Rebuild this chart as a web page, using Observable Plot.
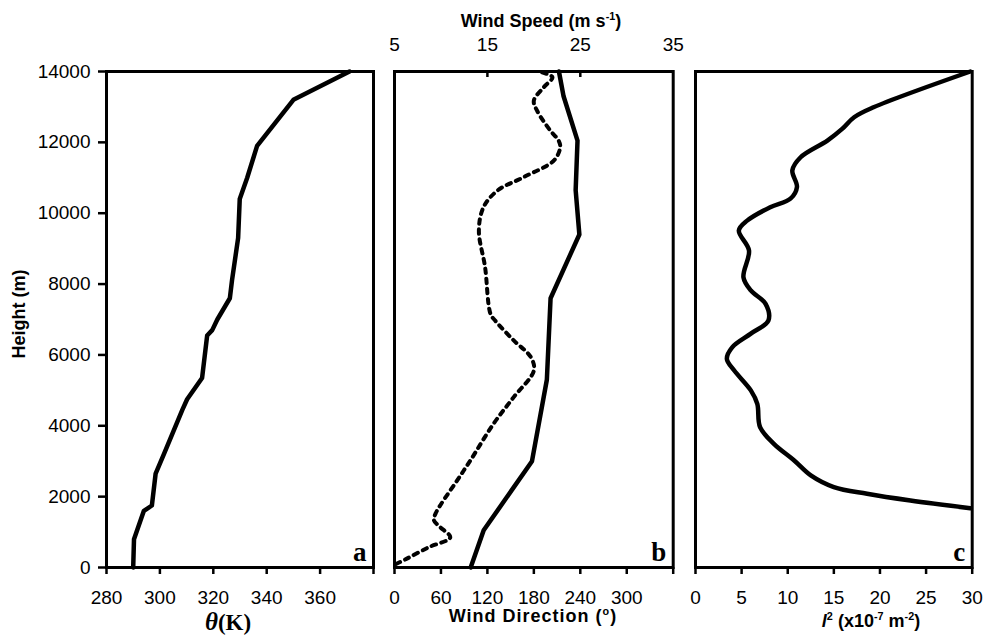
<!DOCTYPE html>
<html><head><meta charset="utf-8">
<script src="https://cdn.jsdelivr.net/npm/d3@7"></script>
<script src="https://cdn.jsdelivr.net/npm/@observablehq/plot@0.6"></script>
<style>
body{margin:0;background:#fff;}
#wrap{position:relative;width:983px;height:635px;overflow:hidden;font-family:"Liberation Sans",Arial,sans-serif;background:#fff;}
#wrap svg{position:absolute;top:0;}
.lbl{position:absolute;white-space:nowrap;font-weight:bold;color:#000;line-height:1;transform:translate(-50%,-50%);}
.lbl sup{font-size:0.6em;vertical-align:super;line-height:0;}
</style></head><body><div id="wrap"></div>
<script>
// ---- data ----
const heightTicks = [0, 2000, 4000, 6000, 8000, 10000, 12000, 14000];

// panel a: potential temperature
const thetaHeight = [0, 800, 1600, 1750, 2650, 3200, 4450, 4750, 5350, 6550, 6700, 7000, 7600, 8100, 9300, 10400, 11000, 11900, 13200, 14000];
const thetaK = [290, 290.3, 294, 297, 298.4, 301.5, 308.4, 310.2, 315.8, 317.7, 319.6, 321.5, 326.2, 327, 329.3, 329.9, 332.7, 336.4, 350, 371];
const thetaTicks = [280, 300, 320, 340, 360, 380];
const thetaTickLabels = ["280", "300", "320", "340", "360", ""];

// panel b: wind speed (solid) and wind direction (dashed)
const speedHeight = [0, 1050, 3000, 5300, 7600, 9400, 10650, 12050, 13300, 14000];
const speedMs = [13.2, 14.6, 19.8, 21.4, 21.8, 24.9, 24.5, 24.7, 23.2, 22.7];
const speedTicks = [5, 15, 25, 35];
const speedInnerTicks = [15, 25];
const dirHeight = [100, 250, 570, 850, 1140, 1330, 1520, 2460, 3020, 4060, 4810, 5560, 5940, 6410, 6970, 7160, 8480, 9510, 10170, 10640, 11020, 11490, 11860, 12050, 12340, 12900, 13180, 13560, 13840, 14000];
const dirDeg = [2, 16, 44, 72, 59, 51, 53, 81, 98, 128, 154, 180, 176, 154, 130, 124, 117, 109, 115, 133, 167, 206, 214, 212, 201, 184, 180, 193, 204, 186];
const dirTicks = [0, 60, 120, 180, 240, 300, 360];
const dirTickLabels = ["0", "60", "120", "180", "240", "300", ""];

// panel c: Scorer parameter l^2
const lHeight = [1675, 1890, 2080, 2270, 2600, 3020, 3490, 3960, 4620, 5000, 5560, 5890, 6220, 6600, 6970, 7440, 7820, 8190, 8950, 9510, 9790, 10170, 10410, 10740, 11210, 11580, 12050, 12380, 12710, 12990, 14000];
const lValues = [29.8, 23.3, 18.6, 15.0, 12.5, 10.7, 8.5, 7.0, 6.7, 6.0, 4.2, 3.4, 4.0, 6.0, 7.9, 7.6, 6.0, 5.2, 5.8, 4.7, 5.6, 8.1, 10.3, 11.0, 10.5, 11.4, 14.3, 15.9, 17.2, 19.3, 29.8];
const lTicks = [0, 5, 10, 15, 20, 25, 30];

const panelLetters = ["a", "b", "c"];

// ---- build ----
const wrap = document.getElementById("wrap");
const H = 635, MT = 71, MB = 68;
const baseStyle = {fontFamily: "'Liberation Sans', Arial, sans-serif", fontSize: "19px", background: "transparent", overflow: "visible", color: "black"};
function place(svg, left) { svg.style.left = left + "px"; wrap.appendChild(svg); }
function letter(ch) {
  return Plot.text([ch], {frameAnchor: "bottom-right", dx: -7, dy: -7, textAnchor: "end", lineAnchor: "bottom",
    fontFamily: "'Liberation Serif', 'Times New Roman', serif", fontWeight: "bold", fontSize: 27, fill: "black"});
}
const thetaData = thetaK.map((v, i) => ({x: v, y: thetaHeight[i]}));
const speedData = speedMs.map((v, i) => ({x: v, y: speedHeight[i]}));
const dirData = dirDeg.map((v, i) => ({x: v, y: dirHeight[i]}));
const lData = lValues.map((v, i) => ({x: v, y: lHeight[i]}));

// panel a
place(Plot.plot({
  width: 383, height: H, marginLeft: 106, marginRight: 10, marginTop: MT, marginBottom: MB,
  style: baseStyle,
  x: {domain: [280, 380], axis: null}, y: {domain: [0, 14000], axis: null},
  marks: [
    Plot.axisY({ticks: heightTicks, tickSize: 8, tickPadding: 8, label: null, strokeWidth: 2.5, tickFormat: d => String(d)}),
    Plot.axisX({ticks: thetaTicks, tickSize: 7, tickPadding: 16, label: null, strokeWidth: 2.5, tickFormat: (d, i) => thetaTickLabels[i]}),
    Plot.line(thetaData, {x: "x", y: "y", stroke: "black", strokeWidth: 4.5}),
    Plot.frame({stroke: "black", strokeWidth: 3}),
    letter(panelLetters[0])
  ]
}), 0);

// panel b (direction, bottom axis)
place(Plot.plot({
  width: 298, height: H, marginLeft: 11, marginRight: 8.3, marginTop: MT, marginBottom: MB,
  style: baseStyle,
  x: {domain: [0, 360], axis: null}, y: {domain: [0, 14000], axis: null},
  marks: [
    Plot.axisX({ticks: dirTicks, tickSize: 7, tickPadding: 16, label: null, strokeWidth: 2.5, tickFormat: (d, i) => dirTickLabels[i]}),
    Plot.line(dirData, {x: "x", y: "y", stroke: "black", strokeWidth: 4, strokeDasharray: "4.5,5.5", curve: "catmull-rom"}),
    Plot.frame({stroke: "black", strokeWidth: 3}),
    letter(panelLetters[1])
  ]
}), 383);
// panel b (speed, top axis)
place(Plot.plot({
  width: 298, height: H, marginLeft: 11, marginRight: 8.3, marginTop: MT, marginBottom: MB,
  style: baseStyle,
  x: {domain: [5, 35], axis: null}, y: {domain: [0, 14000], axis: null},
  marks: [
    Plot.axisX({anchor: "top", ticks: speedTicks, tickSize: 0, tickPadding: 21, label: null}),
    Plot.ruleX(speedInnerTicks, {x: d => d, insetBottom: 490, stroke: "black", strokeWidth: 2.5}),
    Plot.line(speedData, {x: "x", y: "y", stroke: "black", strokeWidth: 4.5})
  ]
}), 383);

// panel c
place(Plot.plot({
  width: 302, height: H, marginLeft: 14, marginRight: 11.3, marginTop: MT, marginBottom: MB,
  style: baseStyle,
  x: {domain: [0, 30], axis: null}, y: {domain: [0, 14000], axis: null},
  marks: [
    Plot.axisX({ticks: lTicks, tickSize: 7, tickPadding: 16, label: null, strokeWidth: 2.5, tickFormat: d => String(d)}),
    Plot.line(lData, {x: "x", y: "y", stroke: "black", strokeWidth: 4.5, curve: "catmull-rom"}),
    Plot.frame({stroke: "black", strokeWidth: 3}),
    letter(panelLetters[2])
  ]
}), 681);

// axis titles
function label(html, x, y, extra) {
  const d = document.createElement("div");
  d.className = "lbl"; d.innerHTML = html;
  d.style.left = x + "px"; d.style.top = y + "px";
  Object.assign(d.style, extra || {});
  wrap.appendChild(d);
}
label("Height (m)", 19, 314, {fontSize: "18px", transform: "translate(-50%,-50%) rotate(-90deg)"});
label("Wind Speed (m s<sup>-1</sup>)", 541, 21, {fontSize: "18px"});
label("<span style=\"font-family:'Liberation Serif',serif;font-style:italic;font-size:25px\">&theta;</span><span style=\"font-family:'Liberation Serif',serif;font-size:23px\">(K)</span>", 228, 621, {});
label("Wind Direction (<sup>o</sup>)", 533, 616, {fontSize: "18px", letterSpacing: "1px"});
label("<i>l</i><sup>2</sup> (x10<sup>-7</sup> m<sup>-2</sup>)", 871, 621, {fontSize: "18px"});
</script>
</body></html>
